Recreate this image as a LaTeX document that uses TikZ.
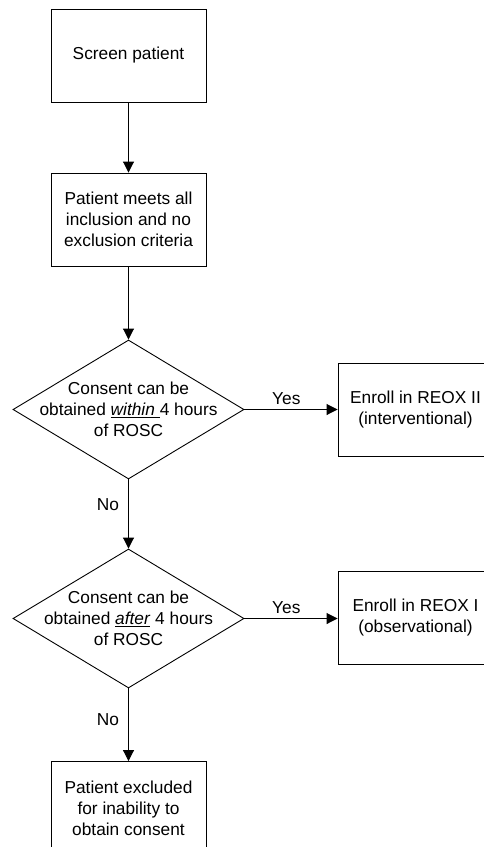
\documentclass[tikz,border=0pt]{standalone}
\usepackage{fontspec}
\setmainfont{Liberation Sans}
\usetikzlibrary{shapes.geometric,arrows.meta}
\begin{document}
\begin{tikzpicture}[x=1pt,y=-1pt,
  every node/.style={font=\fontsize{17.3}{21}\selectfont},
  box/.style={draw=black,line width=0.9pt,minimum width=155pt,minimum height=93pt,inner sep=0pt,align=center},
  dia/.style={draw=black,line width=0.9pt,shape=diamond,minimum width=231pt,minimum height=139pt,inner sep=0pt},
  arr/.style={draw=black,line width=0.9pt,-{Triangle[width=11pt,length=11pt]}},
  lbl/.style={inner sep=0pt}]
\useasboundingbox (0,0) rectangle (483,847);
\node[box] (screen) at (128.5,55.5) {Screen patient};
\node[box] (meets) at (128.5,219.5) {Patient meets all\\inclusion and no\\exclusion criteria};
\node[dia,label={[align=center,inner sep=0pt]center:Consent can be\\obtained \underline{\textit{within} }4 hours\\of ROSC}] (d1) at (128.5,409.5) {};
\node[box] (reox2) at (415.5,409.5) {Enroll in REOX II\\(interventional)};
\node[dia,label={[align=center,inner sep=0pt]center:Consent can be\\obtained \underline{\textit{after}} 4 hours\\of ROSC}] (d2) at (128.5,618.5) {};
\node[box] (reox1) at (415.5,618) {Enroll in REOX I\\(observational)};
\node[box] (excl) at (128.5,808) {Patient excluded\\for inability to\\obtain consent};
\draw[arr] (screen) -- (meets);
\draw[arr] (meets) -- (d1);
\draw[arr] (d1.east) -- (reox2.west |- d1.east) node[pos=0.45,above=4pt,lbl] {Yes};
\draw[arr] (d1) -- (d2) node[pos=0.37,left=9pt,lbl] {No};
\draw[arr] (d2.east) -- (reox1.west |- d2.east) node[pos=0.45,above=4pt,lbl] {Yes};
\draw[arr] (d2) -- (excl) node[pos=0.43,left=9pt,lbl] {No};
\end{tikzpicture}
\end{document}
